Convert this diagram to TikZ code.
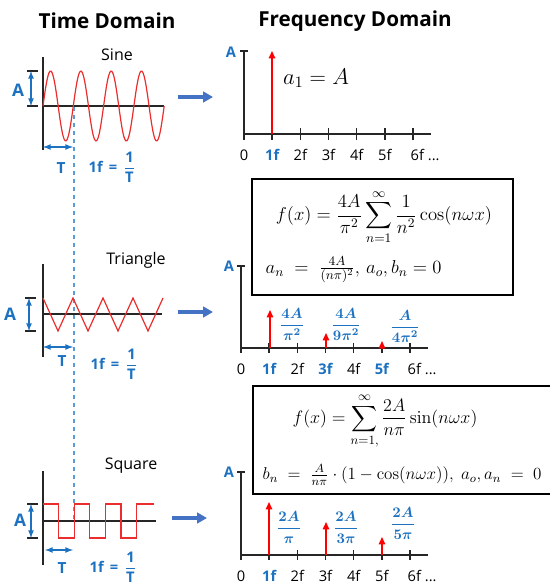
\RequirePackage{fix-cm}
\documentclass[tikz,border=0pt]{standalone}
\usepackage{amsmath,amssymb}
\usepackage[no-math]{fontspec}
\setmainfont{Open Sans}
\usetikzlibrary{arrows,arrows.meta,positioning,calc}

\definecolor{lblue}{RGB}{28,113,192}
\definecolor{ablue}{RGB}{68,114,196}
\definecolor{wred}{RGB}{236,45,45}
\definecolor{dblue}{RGB}{91,155,213}

\tikzset{
  title/.style={font=\fontsize{15.5}{18}\selectfont\bfseries},
  wname/.style={font=\fontsize{12}{14}\selectfont},
  flab/.style={font=\fontsize{11}{13}\selectfont, anchor=base},
  hlab/.style={flab, font=\fontsize{11}{13}\selectfont\bfseries, text=lblue},
  axis/.style={line width=1.1pt, black!85},
  wave/.style={wred, line width=0.9pt},
  spike/.style={red, line width=1.1pt, -{Triangle[length=5.5pt,width=4.8pt]}},
  gofwd/.style={ablue, line width=2.5pt, -{Triangle[length=7.5pt,width=8pt]}},
  dim/.style={lblue, line width=1pt, latex-latex},
  dimtick/.style={black!85, line width=0.9pt},
  amp/.style={text=lblue, font=\fontsize{13}{15}\selectfont\bfseries},
  ampsm/.style={text=lblue, font=\fontsize{11}{13}\selectfont\bfseries},
  per/.style={text=lblue, font=\fontsize{11.5}{13}\selectfont\bfseries},
  freq/.style={text=lblue, font=\fontsize{11}{13}\selectfont\bfseries},
  coef/.style={text=lblue, font=\fontsize{11}{13}\selectfont},
  fbox/.style={line width=1.6pt},
}

\begin{document}
\begin{tikzpicture}[x=0.75pt,y=-0.75pt]
  \useasboundingbox (0,0) rectangle (549,584);

  % titles
  \node[title] (tdom) at (107,21) {Time Domain};
  \node[title] (fdom) at (355,21) {Frequency Domain};

  % ===== sine =====
  \node[wname] (sine) at (117,55) {Sine};
  \draw[axis] (43,57) -- (43,150);
  \draw[axis] (43,106) -- (164,106);
  \draw[wave] plot[domain=0:121.2,samples=121,smooth] ({43+\x},{106-35*sin(\x/30.3*360)});

  % amplitude and period
  \draw[dimtick] (27,71) -- (38,71);
  \draw[dimtick] (27,106) -- (38,106);
  \coordinate (sA1) at (31,71);
  \coordinate (sA2) at (31,106);
  \draw[dim] (sA1) -- (sA2);
  \node[amp] (sinA) at (18,90) {A};
  \coordinate (sT1) at (43,147);
  \coordinate (sT2) at (73,147);
  \draw[dim] (sT1) -- (sT2);
  \node[per] (sinT) at (61,168) {T};
  \node[freq] (sinF) at (112,167) {1f \,=\, $\dfrac{\text{1}}{\text{T}}$};

  \coordinate (sgo1) at (178,97);
  \coordinate (sgo2) at (213,97);
  \draw[gofwd] (sgo1) -- (sgo2);

  % sine spectrum
  \draw[axis] (244,51) -- (244,140);
  \draw[axis] (240,51) -- (248,51);
  \draw[axis] (244,134) -- (431,134);
  \foreach \i in {1,...,6}
    \draw[axis] ({244+28.17*\i},128) -- ({244+28.17*\i},140);
  \foreach \i/\t/\s in {0/0/flab,1/1f/hlab,2/2f/flab,3/3f/flab,4/4f/flab,5/5f/flab}
    \node[\s] (sl\i) at ({244+28.17*\i},161) {\t};
  \node[flab, anchor=base west] (sl6) at (406,161) {6f ...};
  \node[ampsm] (sinsA) at (231,52) {A};
  \coordinate (ss1b) at (272,134);
  \coordinate (ss1t) at (272,51);
  \draw[spike] (ss1b) -- (ss1t);
  \node[font=\fontsize{17}{19}\selectfont] (a1) at (316,78) {$a_1 = A$};

  % guide for the period
  \draw[dblue, dashed, line width=0.8pt] (74,107) -- (74,522);

  % ===== triangle =====
  \node[wname] (tri) at (136,260) {Triangle};
  \draw[axis] (43,264) -- (43,357);
  \draw[axis] (43,314) -- (162,314);
  \draw[wave] (43,298) \foreach \k in {0,...,3} { -- ({58+30*\k},331) -- ({73+30*\k},298) };

  \draw[dimtick] (25,298) -- (36,298);
  \draw[dimtick] (25,331) -- (36,331);
  \coordinate (tA1) at (29,298);
  \coordinate (tA2) at (29,331);
  \draw[dim] (tA1) -- (tA2);
  \node[amp] (triA) at (10,314) {A};
  \coordinate (tT1) at (43,347);
  \coordinate (tT2) at (73,347);
  \draw[dim] (tT1) -- (tT2);
  \node[per] (triT) at (62,361) {T};
  \node[freq] (triF) at (114,364) {1f \,=\, $\dfrac{\text{1}}{\text{T}}$};

  \coordinate (tgo1) at (178,312);
  \coordinate (tgo2) at (213,312);
  \draw[gofwd] (tgo1) -- (tgo2);

  % triangle spectrum
  \draw[fbox] (252,179) rectangle (513,295);
  \node[font=\fontsize{14}{16}\selectfont] (trieq) at (384,217)
    {$\displaystyle f(x) = \frac{4A}{\pi^2}\sum_{n=1}^{\infty}\frac{1}{n^2}\cos(n\omega x)$};
  \node[font=\fontsize{14}{16}\selectfont, anchor=west] (trian) at (261,270)
    {$a_n \;=\; \frac{4A}{(n\pi)^2},\, a_o, b_n = 0$};

  \draw[axis] (241,266) -- (241,353);
  \draw[axis] (237,266) -- (245,266);
  \draw[axis] (241,348) -- (428,348);
  \foreach \i in {1,...,6}
    \draw[axis] ({241+28.17*\i},343) -- ({241+28.17*\i},353);
  \foreach \i/\t/\s in {0/0/flab,1/1f/hlab,2/2f/flab,3/3f/hlab,4/4f/flab,5/5f/hlab}
    \node[\s] (tl\i) at ({241+28.17*\i},374) {\t};
  \node[flab, anchor=base west] (tl6) at (403,374) {6f ...};
  \node[ampsm] (trisA) at (229,266) {A};

  \coordinate (ts1b) at (270,348);
  \coordinate (ts1t) at (270,310);
  \coordinate (ts3b) at (326,348);
  \coordinate (ts3t) at (326,333);
  \coordinate (ts5b) at (382,348);
  \coordinate (ts5t) at (382,341);
  \draw[spike] (ts1b) -- (ts1t);
  \draw[spike] (ts3b) -- (ts3t);
  \draw[spike] (ts5b) -- (ts5t);
  \node[coef] (tc1) at (292,324) {$\boldsymbol{\dfrac{4A}{\pi^2}}$};
  \node[coef] (tc3) at (346,324) {$\boldsymbol{\dfrac{4A}{9\pi^2}}$};
  \node[coef] (tc5) at (405,326) {$\boldsymbol{\dfrac{A}{4\pi^2}}$};

  % ===== square =====
  \node[wname] (sq) at (131,466) {Square};
  \draw[axis] (43,471) -- (43,565);
  \draw[axis] (43,521) -- (156,521);
  \draw[wave] (43,504) \foreach \k in {0,1,2} { -- ({58.6+31.2*\k},504) -- ({58.6+31.2*\k},538)
    -- ({74.2+31.2*\k},538) -- ({74.2+31.2*\k},504) } -- (154,504);

  \draw[dimtick] (27,504) -- (38,504);
  \draw[dimtick] (27,538) -- (38,538);
  \coordinate (qA1) at (31,504);
  \coordinate (qA2) at (31,538);
  \draw[dim] (qA1) -- (qA2);
  \node[amp] (sqA) at (20,520) {A};
  \coordinate (qT1) at (45,550);
  \coordinate (qT2) at (73,550);
  \draw[dim] (qT1) -- (qT2);
  \node[per] (sqT) at (62,568) {T};
  \node[freq] (sqF) at (113,567) {1f \,=\, $\dfrac{\text{1}}{\text{T}}$};

  \coordinate (qgo1) at (172,518);
  \coordinate (qgo2) at (207,518);
  \draw[gofwd] (qgo1) -- (qgo2);

  % square spectrum
  \draw[fbox] (253,386) rectangle (560,494);
  \node[font=\fontsize{13.5}{15}\selectfont] (sqeq) at (385,421)
    {$\displaystyle f(x) = \sum_{n=1,}^{\infty}\frac{2A}{n\pi}\sin(n\omega x)$};
  \node[font=\fontsize{12.8}{15}\selectfont, anchor=west] (sqbn) at (258,475)
    {$b_n \;=\; \frac{A}{n\pi}\cdot(1-\cos(n\omega x)),\ a_o, a_n \;=\; 0$};

  \draw[axis] (241,472) -- (241,560);
  \draw[axis] (237,472) -- (245,472);
  \draw[axis] (241,555) -- (428,555);
  \foreach \i in {1,...,6}
    \draw[axis] ({241+28.17*\i},550) -- ({241+28.17*\i},560);
  \foreach \i/\t/\s in {0/0/flab,1/1f/hlab,2/2f/flab,3/3f/flab,4/4f/flab,5/5f/flab}
    \node[\s] (ql\i) at ({241+28.17*\i},581) {\t};
  \node[flab, anchor=base west] (ql6) at (403,581) {6f ...};
  \node[ampsm] (sqsA) at (229,472) {A};

  \coordinate (qs1b) at (269,555);
  \coordinate (qs1t) at (269,502);
  \coordinate (qs3b) at (326,555);
  \coordinate (qs3t) at (326,522);
  \coordinate (qs5b) at (382,555);
  \coordinate (qs5t) at (382,537);
  \draw[spike] (qs1b) -- (qs1t);
  \draw[spike] (qs3b) -- (qs3t);
  \draw[spike] (qs5b) -- (qs5t);
  \node[coef] (qc1) at (289,527) {$\boldsymbol{\dfrac{2A}{\pi}}$};
  \node[coef] (qc3) at (346,527) {$\boldsymbol{\dfrac{2A}{3\pi}}$};
  \node[coef] (qc5) at (403,523) {$\boldsymbol{\dfrac{2A}{5\pi}}$};
\end{tikzpicture}
\end{document}
